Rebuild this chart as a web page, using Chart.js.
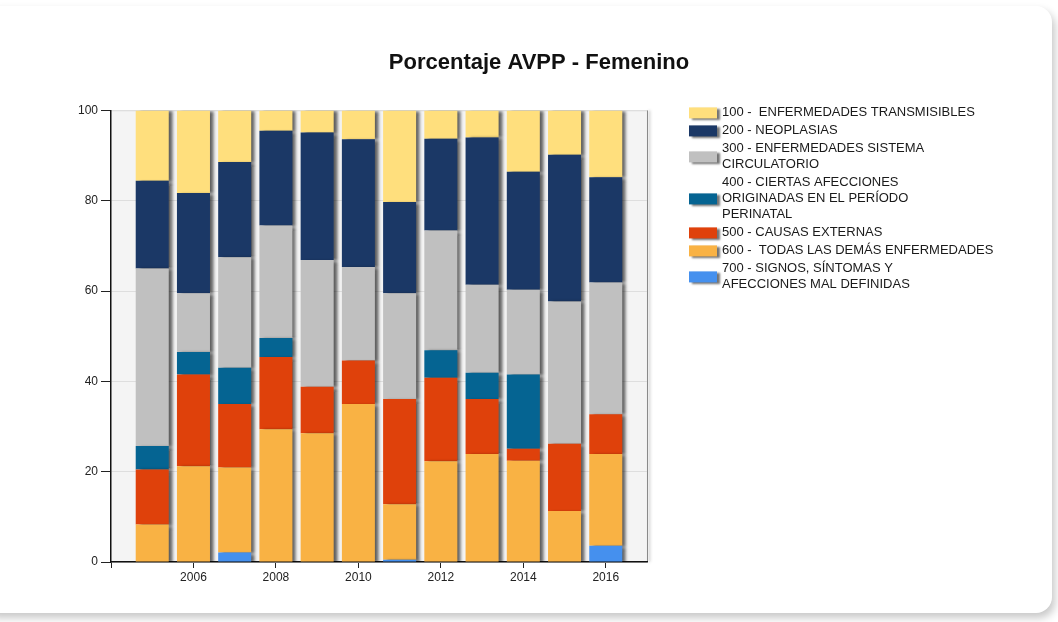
<!DOCTYPE html>
<html>
<head>
<meta charset="utf-8">
<script src="https://cdn.jsdelivr.net/npm/chart.js@4.4.0/dist/chart.umd.min.js"></script>
<style>
  html, body { margin: 0; padding: 0; background: #fff; overflow: hidden; }
  #card { position: absolute; left: -20px; top: 6px; width: 1072px; height: 607px;
          border-radius: 16px; background: #fff; box-shadow: 3px 5px 8px rgba(0,0,0,0.22); }
  #avpp { position: absolute; left: 0; top: 0; }
</style>
</head>
<body>
<div id="card"></div>
<canvas id="avpp" width="1058" height="622"></canvas>
<script>
// years on the x axis
const years = [2005, 2006, 2007, 2008, 2009, 2010, 2011, 2012, 2013, 2014, 2015, 2016];
const xTicks = [2004, 2006, 2008, 2010, 2012, 2014, 2016];
const xTickLabels = ['', '2006', '2008', '2010', '2012', '2014', '2016'];

// percentage of AVPP per group
const s100 = [15.6, 18.3, 11.4, 4.5, 4.9, 6.4, 20.3, 6.3, 6.0, 13.6, 9.8, 14.8];
const s200 = [19.4, 22.2, 21.1, 21.0, 28.2, 28.3, 20.2, 20.3, 32.6, 26.1, 32.5, 23.3];
const s300 = [39.3, 13.0, 24.5, 24.9, 28.1, 20.7, 23.4, 26.5, 19.5, 18.8, 31.5, 29.2];
const s400 = [5.2, 5.0, 8.0, 4.2, 0, 0, 0, 6.1, 5.8, 16.4, 0, 0];
const s500 = [12.2, 20.3, 14.1, 16.0, 10.3, 9.6, 23.3, 18.5, 12.2, 2.7, 14.9, 8.8];
const s600 = [8.3, 21.2, 18.8, 29.4, 28.5, 35.0, 12.3, 22.3, 23.9, 22.4, 11.3, 20.3];
const s700 = [0, 0, 2.1, 0, 0, 0, 0.5, 0, 0, 0, 0, 3.6];

const lab100 = ['100 -  ENFERMEDADES TRANSMISIBLES'];
const lab200 = ['200 - NEOPLASIAS'];
const lab300 = ['300 - ENFERMEDADES SISTEMA', 'CIRCULATORIO'];
const lab400 = ['400 - CIERTAS AFECCIONES', 'ORIGINADAS EN EL PERÍODO', 'PERINATAL'];
const lab500 = ['500 - CAUSAS EXTERNAS'];
const lab600 = ['600 -  TODAS LAS DEMÁS ENFERMEDADES'];
const lab700 = ['700 - SIGNOS, SÍNTOMAS Y', 'AFECCIONES MAL DEFINIDAS'];

function pts(vals) {
  return vals.map((v, i) => ({ x: years[i], y: v }));
}

// bottom of the stack first
const datasets = [
  { label: lab700, data: pts(s700), backgroundColor: '#4590ee' },
  { label: lab600, data: pts(s600), backgroundColor: '#f9b244' },
  { label: lab500, data: pts(s500), backgroundColor: '#df410b' },
  { label: lab400, data: pts(s400), backgroundColor: '#056492' },
  { label: lab300, data: pts(s300), backgroundColor: '#c0c0c0' },
  { label: lab200, data: pts(s200), backgroundColor: '#1b3866' },
  { label: lab100, data: pts(s100), backgroundColor: '#ffdf7d' }
];

const FONT = '"Liberation Sans", Arial, sans-serif';

// grey plot background with a shadowed right edge
const plotBg = {
  id: 'plotBg',
  beforeDraw(chart) {
    const { ctx, chartArea: a } = chart;
    ctx.save();
    ctx.fillStyle = '#f4f4f4';
    ctx.fillRect(a.left, a.top, a.right - a.left, a.bottom - a.top);
    ctx.strokeStyle = '#e2e2e2';
    ctx.lineWidth = 1;
    ctx.beginPath();
    ctx.moveTo(a.left, a.top + 0.5);
    ctx.lineTo(a.right, a.top + 0.5);
    ctx.stroke();
    ctx.shadowColor = 'rgba(0,0,0,0.35)';
    ctx.shadowBlur = 3;
    ctx.shadowOffsetX = 2;
    ctx.strokeStyle = '#8a8a8a';
    ctx.beginPath();
    ctx.moveTo(a.right + 0.5, a.top);
    ctx.lineTo(a.right + 0.5, a.bottom);
    ctx.stroke();
    ctx.restore();
  }
};

// drop shadow behind the bars
const barShadow = {
  id: 'barShadow',
  beforeDatasetsDraw(chart) {
    const ctx = chart.ctx;
    ctx.save();
    ctx.shadowColor = 'rgba(0,0,0,0.6)';
    ctx.shadowBlur = 3;
    ctx.shadowOffsetX = 4;
    ctx.shadowOffsetY = 1;
  },
  afterDatasetsDraw(chart) {
    chart.ctx.restore();
  }
};

// legend on the right: swatch centred on the wrapped text
const sideLegend = {
  id: 'sideLegend',
  afterDraw(chart) {
    const { ctx, chartArea: a } = chart;
    const x = a.right + 42;
    let y = a.top + 2;
    ctx.save();
    ctx.font = '13px ' + FONT;
    ctx.textBaseline = 'middle';
    for (let i = chart.data.datasets.length - 1; i >= 0; i--) {
      const ds = chart.data.datasets[i];
      const lines = ds.label;
      const mid = y + (lines.length - 1) * 8;
      ctx.save();
      ctx.shadowColor = 'rgba(0,0,0,0.55)';
      ctx.shadowBlur = 2;
      ctx.shadowOffsetX = 3;
      ctx.shadowOffsetY = 2;
      ctx.fillStyle = ds.backgroundColor;
      ctx.fillRect(x, mid - 5, 28, 11);
      ctx.restore();
      ctx.fillStyle = '#1a1a1a';
      lines.forEach((t, k) => ctx.fillText(t, x + 33, y + k * 16));
      y += (lines.length - 1) * 16 + 18;
    }
    ctx.restore();
  }
};

new Chart(document.getElementById('avpp'), {
  type: 'bar',
  data: { datasets: datasets },
  options: {
    responsive: false,
    animation: false,
    events: [],
    layout: { padding: { left: 20, right: 0, top: 0, bottom: 0 } },
    barPercentage: 0.9,
    categoryPercentage: 0.89,
    plugins: {
      legend: { display: false },
      tooltip: { enabled: false },
      title: {
        display: true,
        text: 'Porcentaje AVPP - Femenino',
        color: '#111',
        font: { family: FONT, size: 22, weight: 'bold', lineHeight: 1.2 },
        padding: { top: 50, bottom: 34 }
      }
    },
    scales: {
      x: {
        type: 'linear',
        stacked: true,
        min: 2004,
        max: 2017,
        offset: false,
        afterFit: s => { s.height = 60; },
        afterBuildTicks: s => { s.ticks = xTicks.map(v => ({ value: v })); },
        grid: { offset: false, drawOnChartArea: false, drawTicks: true, tickLength: 6, tickColor: '#222' },
        border: { color: '#111', width: 1.5 },
        ticks: {
          autoSkip: false,
          maxRotation: 0,
          padding: 2,
          color: '#222',
          font: { family: FONT, size: 12 },
          callback: (v, i) => xTickLabels[i]
        }
      },
      y: {
        stacked: true,
        min: 0,
        max: 100,
        afterFit: s => { s.width = 91; },
        grid: { color: '#dedede', tickColor: '#222', tickLength: 10 },
        border: { color: '#111', width: 1.5 },
        ticks: { stepSize: 20, padding: 3, color: '#222', font: { family: FONT, size: 12 } }
      },
      // empty right axis that only reserves room for the legend
      side: {
        type: 'linear',
        position: 'right',
        min: 0,
        max: 100,
        afterFit: s => { s.width = 411; },
        grid: { display: false },
        border: { display: false },
        ticks: { display: false }
      }
    }
  },
  plugins: [plotBg, barShadow, sideLegend]
});
</script>
</body>
</html>
